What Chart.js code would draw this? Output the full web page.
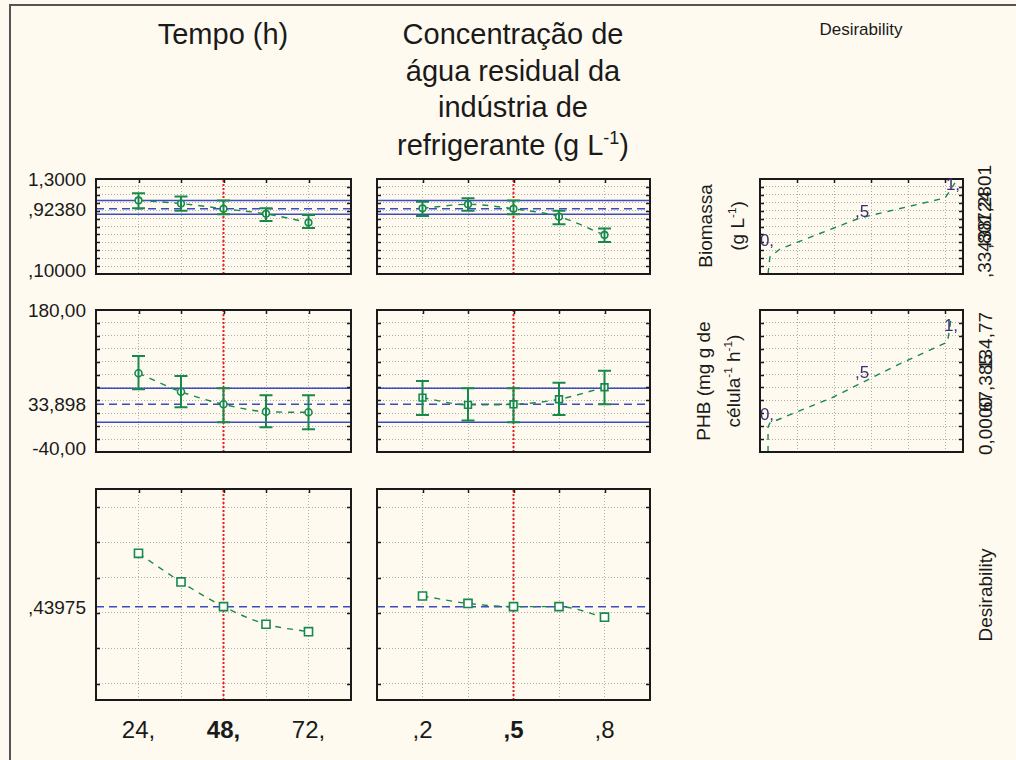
<!DOCTYPE html>
<html>
<head>
<meta charset="utf-8">
<script src="https://cdn.jsdelivr.net/npm/chart.js@4.4.0/dist/chart.umd.min.js"></script>
<style>
  body { margin: 0; background: #fffaf0; font-family: "Liberation Sans", Arial, sans-serif; }
  #page { position: relative; width: 1016px; height: 760px; overflow: hidden; }
  #frame { position: absolute; left: 9px; top: 4px; width: 1020px; height: 770px;
           border-left: 2px solid #555; border-top: 2px solid #555; }
  canvas { position: absolute; }
  .t { position: absolute; white-space: nowrap; color: #1a1a1a; line-height: 1; }
  sup { font-size: 62%; vertical-align: 0.6em; line-height: 0; }
</style>
</head>
<body>
<div id="page"><div id="frame"></div></div>
<script>
// factor levels
const timeLevels = [24, 36, 48, 60, 72];
const concLevels = [0.2, 0.35, 0.5, 0.65, 0.8];
const timeRange = [12, 84];
const concRange = [0.05, 0.95];
const timeLabels = ['24,', '48,', '72,'];
const timeLabelValues = [24, 48, 72];
const concLabels = [',2', ',5', ',8'];
const concLabelValues = [0.2, 0.5, 0.8];
const currentTime = 48;
const currentConc = 0.5;

// Biomassa (g L-1)
const biomassaRange = [0.1, 1.3];
const biomassaGrid = [0.2, 0.3, 0.4, 0.5, 0.6, 0.7, 0.8, 0.9, 1.0, 1.1, 1.2];
const biomassaTicks = [1.3, 0.9238, 0.1];
const biomassaTickLabels = ['1,3000', ',92380', ',10000'];
const biomassaRef = 0.9238;
const biomassaCI = [0.855, 1.03];
const biomassaTempo = [1.03, 0.99, 0.924, 0.86, 0.75];
const biomassaTempoLo = [0.93, 0.90, 0.855, 0.77, 0.68];
const biomassaTempoHi = [1.12, 1.08, 1.03, 0.93, 0.845];
const biomassaConc = [0.93, 0.98, 0.924, 0.824, 0.593];
const biomassaConcLo = [0.833, 0.90, 0.855, 0.73, 0.504];
const biomassaConcHi = [1.013, 1.056, 1.03, 0.90, 0.676];

// PHB (mg g de celula-1 h-1)
const phbRange = [-40, 180];
const phbGrid = [-20, 0, 20, 40, 60, 80, 100, 120, 140, 160];
const phbTicks = [180, 33.898, -40];
const phbTickLabels = ['180,00', '33,898', '-40,00'];
const phbRef = 33.898;
const phbCI = [6.0, 58.7];
const phbTempo = [81.9, 53.4, 33.898, 22.5, 21.5];
const phbTempoLo = [57.2, 29.3, 6.0, -1.7, -4.8];
const phbTempoHi = [108.7, 77.8, 58.7, 47.8, 47.8];
const phbConc = [44.2, 33.0, 33.898, 41.7, 60.3];
const phbConcLo = [17.4, 8.8, 6.0, 17.4, 34.0];
const phbConcHi = [70.0, 58.7, 58.7, 67.4, 86.0];

// Desirability
const desRange = [0.1754, 0.7732];
const desGrid = [0.222, 0.322, 0.422, 0.522, 0.622, 0.722];
const desRef = 0.43975;
const desTickLabels = [',43975'];
const desTempo = [0.591, 0.510, 0.440, 0.390, 0.369];
const desConc = [0.470, 0.449, 0.440, 0.440, 0.410];

// desirability functions (x = desirability, y = response)
const dRange = [-0.043, 1.043];
const dGrid = [0.155, 0.353, 0.551, 0.749, 0.947];
const biomassaDesX = [0, 0.01, 0.064, 0.49, 0.947, 1.0];
const biomassaDesY = [0.1, 0.315, 0.416, 0.807, 1.06, 1.25];
const phbDesX = [0, 0, 0.01, 0.35, 0.67, 0.96, 0.98];
const phbDesY = [-40, -1.3, 4.9, 45.2, 91.7, 130.4, 167.6];

const GREEN = '#17894a';
const BLUE = '#3b4cc0';
const RED = '#f01c1c';
const page = document.getElementById('page');

const zip = (xs, ys) => xs.map((x, i) => ({ x: x, y: ys[i] }));

const panelPlugin = {
  id: 'panel',
  afterDatasetsDraw(chart) {
    const ctx = chart.ctx, ys = chart.scales.y;
    chart.data.datasets.forEach((ds, i) => {
      if (!ds.errLo) return;
      const meta = chart.getDatasetMeta(i);
      ctx.save();
      ctx.strokeStyle = GREEN;
      ctx.lineWidth = 2;
      meta.data.forEach((pt, j) => {
        const a = ys.getPixelForValue(ds.errHi[j]);
        const b = ys.getPixelForValue(ds.errLo[j]);
        ctx.beginPath();
        ctx.moveTo(pt.x, a); ctx.lineTo(pt.x, b);
        ctx.moveTo(pt.x - 6.5, a); ctx.lineTo(pt.x + 6.5, a);
        ctx.moveTo(pt.x - 6.5, b); ctx.lineTo(pt.x + 6.5, b);
        ctx.stroke();
      });
      ctx.restore();
    });
  },
  afterDraw(chart) {
    const ctx = chart.ctx, a = chart.chartArea;
    ctx.save();
    ctx.strokeStyle = '#1a1a1a';
    ctx.lineWidth = 1.5;
    ctx.beginPath();
    chart.scales.y.ticks.forEach(t => {
      const y = Math.round(chart.scales.y.getPixelForValue(t.value)) + 0.5;
      ctx.moveTo(a.left, y); ctx.lineTo(a.left + 4, y);
      ctx.moveTo(a.right, y); ctx.lineTo(a.right - 4, y);
    });
    chart.scales.x.ticks.forEach(t => {
      const x = Math.round(chart.scales.x.getPixelForValue(t.value)) + 0.5;
      ctx.moveTo(x, a.top); ctx.lineTo(x, a.top + 4);
    });
    ctx.stroke();
    ctx.lineWidth = 2;
    ctx.strokeRect(a.left, a.top, a.right - a.left, a.bottom - a.top);
    ctx.restore();
  }
};

function axis(range, grid) {
  return {
    type: 'linear', min: range[0], max: range[1],
    afterBuildTicks: s => { s.ticks = grid.map(v => ({ value: v })); },
    ticks: { display: false },
    grid: { color: '#b0b0b0', lineWidth: 1, drawTicks: false },
    border: { display: false, dash: [1, 2] }
  };
}

function panel(rect, xr, xg, yr, yg, datasets) {
  const M = 8;
  const c = document.createElement('canvas');
  c.width = rect[2] - rect[0] + 2 * M;
  c.height = rect[3] - rect[1] + 2 * M;
  c.style.left = (rect[0] - M) + 'px';
  c.style.top = (rect[1] - M) + 'px';
  page.appendChild(c);
  const chart = new Chart(c, {
    type: 'line',
    data: { datasets: datasets },
    options: {
      responsive: false, animation: false, devicePixelRatio: 1,
      layout: { padding: M },
      plugins: { legend: { display: false }, tooltip: { enabled: false } },
      scales: { x: axis(xr, xg), y: axis(yr, yg) }
    },
    plugins: [panelPlugin]
  });
  chart.offX = rect[0] - M;
  chart.offY = rect[1] - M;
  return chart;
}

function fitSet(xs, ys, lo, hi, style, r) {
  return {
    data: zip(xs, ys), errLo: lo, errHi: hi,
    borderColor: GREEN, borderWidth: 1.4, borderDash: [6, 6],
    tension: 0.4, cubicInterpolationMode: 'monotone',
    pointStyle: style, pointRadius: r, pointBorderWidth: 1.6,
    pointBorderColor: GREEN, pointBackgroundColor: '#ffffff'
  };
}
function hLine(xr, v, dash) {
  return { data: [{ x: xr[0], y: v }, { x: xr[1], y: v }], borderColor: BLUE,
           borderWidth: 1.5, borderDash: dash, pointRadius: 0 };
}
function vLine(x, yr) {
  return { data: [{ x: x, y: yr[0] }, { x: x, y: yr[1] }], borderColor: RED,
           borderWidth: 2, borderDash: [2, 2], pointRadius: 0 };
}
function rowSets(levels, xr, cur, yr, vals, lo, hi, ref, ci, style, r) {
  const s = [fitSet(levels, vals, lo, hi, style, r)];
  s.push(hLine(xr, ref, [8, 5]));
  if (ci) { s.push(hLine(xr, ci[0], [])); s.push(hLine(xr, ci[1], [])); }
  s.push(vLine(cur, yr));
  return s;
}
function desSet(xs, ys) {
  return { data: zip(xs, ys), borderColor: GREEN, borderWidth: 1.4,
           borderDash: [6, 6], tension: 0, pointRadius: 0 };
}

const C1 = [96, 351], C2 = [377, 650], C3 = [760, 963];
const R1 = [179, 274], R2 = [310, 452], R3 = [489, 700];

const b1 = panel([C1[0], R1[0], C1[1], R1[1]], timeRange, timeLevels, biomassaRange, biomassaGrid,
  rowSets(timeLevels, timeRange, currentTime, biomassaRange, biomassaTempo, biomassaTempoLo, biomassaTempoHi, biomassaRef, biomassaCI, 'circle', 3.3));
panel([C2[0], R1[0], C2[1], R1[1]], concRange, concLevels, biomassaRange, biomassaGrid,
  rowSets(concLevels, concRange, currentConc, biomassaRange, biomassaConc, biomassaConcLo, biomassaConcHi, biomassaRef, biomassaCI, 'circle', 3.3));
const p1 = panel([C1[0], R2[0], C1[1], R2[1]], timeRange, timeLevels, phbRange, phbGrid,
  rowSets(timeLevels, timeRange, currentTime, phbRange, phbTempo, phbTempoLo, phbTempoHi, phbRef, phbCI, 'circle', 3.5));
panel([C2[0], R2[0], C2[1], R2[1]], concRange, concLevels, phbRange, phbGrid,
  rowSets(concLevels, concRange, currentConc, phbRange, phbConc, phbConcLo, phbConcHi, phbRef, phbCI, 'rect', 4.8));
const d1 = panel([C1[0], R3[0], C1[1], R3[1]], timeRange, timeLevels, desRange, desGrid,
  rowSets(timeLevels, timeRange, currentTime, desRange, desTempo, null, null, desRef, null, 'rect', 5.7));
const d2 = panel([C2[0], R3[0], C2[1], R3[1]], concRange, concLevels, desRange, desGrid,
  rowSets(concLevels, concRange, currentConc, desRange, desConc, null, null, desRef, null, 'rect', 5.7));
panel([C3[0], R1[0], C3[1], R1[1]], dRange, dGrid, biomassaRange, biomassaGrid,
  [desSet(biomassaDesX, biomassaDesY)]);
panel([C3[0], R2[0], C3[1], R2[1]], dRange, dGrid, phbRange, phbGrid,
  [desSet(phbDesX, phbDesY)]);

function txt(html, x, y, o) {
  o = o || {};
  const d = document.createElement('div');
  d.className = 't';
  d.innerHTML = html;
  d.style.left = x + 'px';
  d.style.top = y + 'px';
  d.style.fontSize = (o.size || 18) + 'px';
  if (o.bold) d.style.fontWeight = 'bold';
  if (o.color) d.style.color = o.color;
  const ax = o.align === 'right' ? '-100%' : o.align === 'left' ? '0' : '-50%';
  d.style.transform = 'translate(' + ax + ',-50%)' + (o.rot ? ' rotate(' + o.rot + 'deg)' : '');
  page.appendChild(d);
}

// y tick labels from the charts' own scales
function yLabels(chart, vals, labels) {
  const a = chart.chartArea;
  vals.forEach((v, i) => {
    let y = chart.scales.y.getPixelForValue(v);
    y = Math.min(y, a.bottom - 4);
    txt(labels[i], chart.offX + a.left - 10, chart.offY + y, { align: 'right', size: 19 });
  });
}
yLabels(b1, biomassaTicks, biomassaTickLabels);
yLabels(p1, phbTicks, phbTickLabels);
yLabels(d1, [desRef], desTickLabels);

timeLabelValues.forEach((v, i) => {
  const x = d1.offX + d1.scales.x.getPixelForValue(v);
  txt(timeLabels[i], x, 730, { size: 24, bold: v === currentTime });
});
concLabelValues.forEach((v, i) => {
  const x = d2.offX + d2.scales.x.getPixelForValue(v);
  txt(concLabels[i], x, 730, { size: 24, bold: v === currentConc });
});

// column titles
txt('Tempo (h)', 223, 34, { size: 29 });
txt('Concentração de', 513, 34, { size: 29 });
txt('água residual da', 513, 71, { size: 29 });
txt('indústria de', 513, 107, { size: 29 });
txt('refrigerante (g L<sup>-1</sup>)', 513, 145, { size: 29 });
txt('Desirability', 861, 29, { size: 17 });

// response labels beside the desirability functions
txt('Biomassa', 705, 226, { size: 19, rot: -90 });
txt('(g L<sup>-1</sup>)', 737, 226, { size: 19, rot: -90 });
txt('PHB (mg g de', 703, 381, { size: 19, rot: -90 });
txt('célula<sup>-1</sup> h<sup>-1</sup>)', 733, 381, { size: 19, rot: -90 });
txt('Desirability', 985, 595, { size: 19, rot: -90 });

// overlapping low / middle / high response values
txt(',33438', 984, 249, { size: 19, rot: -90 });
txt(',80724', 984, 220, { size: 19, rot: -90 });
txt('1,2801', 984, 194, { size: 19, rot: -90 });
txt('0,0000', 985, 426, { size: 19, rot: -90 });
txt('67,385', 985, 383, { size: 19, rot: -90 });
txt('134,77', 985, 341, { size: 19, rot: -90 });

// desirability level marks
const mark = '#3a2f6e';
txt('0,', 767, 240, { size: 17, color: mark });
txt(',5', 862, 211, { size: 17, color: mark });
txt('1,', 953, 184, { size: 17, color: mark });
txt('0,', 767, 414, { size: 17, color: mark });
txt(',5', 862, 372, { size: 17, color: mark });
txt('1,', 951, 325, { size: 17, color: mark });
</script>
</body>
</html>
